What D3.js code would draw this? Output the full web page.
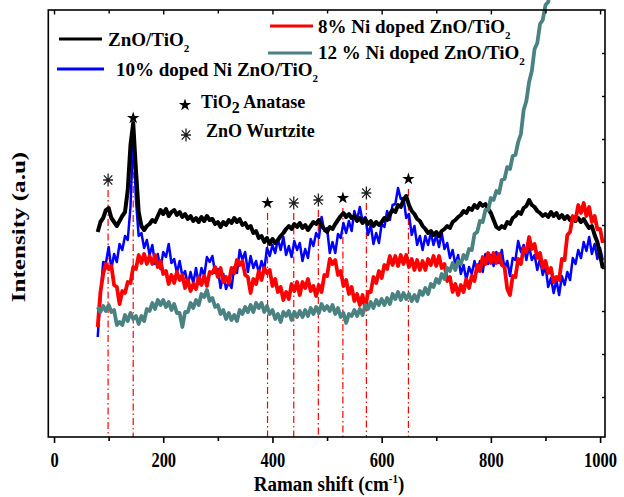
<!DOCTYPE html>
<html><head><meta charset="utf-8">
<script src="https://cdn.jsdelivr.net/npm/d3@7"></script>
<style>
body{margin:0;background:#fff}
svg{display:block;font-family:"Liberation Serif","Times New Roman",serif;font-weight:bold}
</style>
</head><body><svg id="c" width="624" height="497"></svg>
<script>
// Raman shift grid: 80, 85, 90 ... cm-1
const shiftStart = 80, shiftStep = 5;

const zno = [
205,215,219,227,229,219,215,211,216,221,
225,247,292,314,267,225,211,207,211,213,
217,215,221,227,223,228,221,225,227,222,
225,220,223,218,221,216,219,215,220,216,
221,217,218,213,215,210,215,212,217,214,
219,215,218,212,214,209,211,204,206,199,
201,195,199,193,198,194,197,201,204,208,
211,208,213,210,214,209,212,207,211,215,
213,217,211,208,205,210,208,213,217,221,
224,220,223,219,221,216,219,214,218,213,
216,211,215,212,215,219,217,223,227,225,
232,230,237,241,232,226,223,218,216,211,
208,204,206,202,205,201,206,208,211,209,
215,217,220,222,226,224,229,227,232,229,
234,231,233,228,224,217,210,208,211,209,
215,213,219,221,225,223,229,231,237,232,
230,226,224,221,223,220,225,221,224,219,
222,218,221,217,220,216,219,215,218,213,
209,211,202,195,182,169];

const ni8 = [
110,145,163,173,168,171,152,150,133,146,
144,155,154,170,168,182,174,183,173,181,
173,182,170,176,163,166,153,162,154,165,
157,162,149,157,146,153,148,160,152,161,
151,165,164,170,160,169,155,160,154,169,
164,177,172,176,162,160,144,158,153,166,
157,169,164,167,151,158,145,150,137,145,
138,153,146,155,142,155,149,158,146,151,
141,152,145,162,161,178,173,177,162,166,
151,157,143,150,136,143,132,142,128,145,
145,160,154,166,159,172,168,181,172,181,
171,182,173,182,170,178,167,177,167,176,
167,178,172,181,171,181,169,173,156,160,
145,153,142,152,145,158,149,161,156,172,
166,180,173,184,174,184,174,183,172,170,
148,142,161,160,178,173,189,185,200,188,
193,179,184,169,176,164,169,155,160,157,
178,177,202,205,221,217,232,224,234,221,
230,215,221,208,208,194];

const ni10 = [
100,141,175,174,190,168,183,175,193,187,
201,197,230,305,237,201,204,189,197,182,
192,173,183,168,185,180,193,174,178,164,
176,161,166,152,165,154,169,153,169,161,
180,175,181,164,168,149,163,148,155,149,
170,164,187,177,185,165,181,169,176,164,
176,167,189,181,192,184,198,187,200,182,
191,180,196,187,194,176,188,179,198,191,
204,199,220,206,209,184,195,184,203,199,
214,204,216,206,226,217,230,216,220,202,
212,193,204,194,213,210,226,217,232,233,
249,238,239,219,223,202,211,192,201,187,
201,192,204,192,202,190,204,188,194,179,
187,172,182,163,172,157,170,163,176,165,
176,165,183,173,182,171,185,174,187,168,
176,161,179,177,196,185,192,177,191,177,
182,167,178,162,171,150,159,144,157,142,
161,152,165,157,179,173,187,179,195,186,
200,183,193,178,189,177];

const ni12 = [
130,125,131,126,132,125,127,112,115,112,
122,116,124,118,121,113,121,116,128,126,
134,128,137,132,137,130,135,127,133,124,
124,110,125,125,134,129,137,132,143,140,
147,136,139,130,132,123,127,118,124,117,
122,116,127,123,130,125,132,125,134,129,
134,125,131,123,127,118,123,115,125,121,
126,117,125,120,126,120,127,121,129,123,
130,124,133,127,131,126,132,123,129,120,
124,114,123,121,127,121,128,122,132,128,
135,129,137,132,138,132,139,133,143,138,
145,137,144,138,143,136,142,136,146,142,
149,143,153,150,158,154,163,158,169,166,
174,167,176,173,182,178,188,187,203,205,
216,215,227,227,239,237,246,244,257,258,
270,268,281,282,295,303,327,336,355,366,
388,394,413,417,432,435,452,465];

const seriesNames = ["ZnO/TiO", "10% doped Ni ZnO/TiO", "8% Ni doped ZnO/TiO", "12 % Ni doped ZnO/TiO"];
const seriesColors = ["#000000", "#0000ff", "#ff0000", "#4a8282"];

const xTickValues = [0,100,200,300,400,500,600,700,800,900,1000];
const xTickLabels = ["0","","200","","400","","600","","800","","1000"];
const yTickValues = [40,83,126,169,212,255,298,341,384];

// peak assignments: a = TiO2 anatase (star), w = ZnO wurtzite (asterisk)
const peakShifts = [99,145,391,439,484,529,572,649];
const peakTypes  = ["w","a","a","w","w","a","w","a"];
const peakMarkY  = [257,319,234,234,237,239,244,258];

const svg = d3.select("#c");
const x = d3.scaleLinear().domain([-10.5, 1009]).range([48.3, 605]);
const y = d3.scaleLinear().domain([0, 427]).range([437, 10]);

const toPts = arr => arr.map((v,i) => [shiftStart + shiftStep*i, v]);
const line = d3.line().x(d => x(d[0])).y(d => y(d[1]));

// red dash-dot reference lines
svg.append("g").selectAll("line").data(peakShifts).join("line")
  .attr("x1", d => x(d)).attr("x2", d => x(d))
  .attr("y1", (d,i) => y(peakMarkY[i]) + 10).attr("y2", y(0))
  .attr("stroke", "#ff0000").attr("stroke-width", 1.2)
  .attr("stroke-dasharray", "7,3,1.5,3");

// spectra (draw order: blue, black, red, teal)
const order = [1,0,2,3];
const dataSets = [zno, ni10, ni8, ni12];
const widths = [4, 2.5, 3.8, 3.8];
order.forEach(k => {
  svg.append("path").datum(toPts(dataSets[k]))
    .attr("d", line).attr("fill", "none")
    .attr("stroke", seriesColors[k]).attr("stroke-width", widths[k])
    .attr("stroke-linejoin", "round");
});

// markers
const starPath = d3.symbol(d3.symbolStar, 48)();
const astPath = "M0,-6.5V6.5M-5,0H5M-4.2,-4.6L4.2,4.6M-4.2,4.6L4.2,-4.6";
function drawMarker(g, type, cx, cy) {
  const m = g.append("g").attr("transform", `translate(${cx},${cy})`);
  if (type === "a") {
    m.append("path").attr("d", starPath).attr("fill", "#000");
  } else {
    m.append("path").attr("d", astPath).attr("stroke", "#222").attr("stroke-width", 1.3).attr("fill", "none");
    m.append("circle").attr("r", 1.8).attr("fill", "#222");
  }
}
const mg = svg.append("g");
peakShifts.forEach((d,i) => drawMarker(mg, peakTypes[i], x(d), y(peakMarkY[i])));

// frame
svg.append("rect").attr("x", x.range()[0]).attr("y", y.range()[1])
  .attr("width", x.range()[1] - x.range()[0]).attr("height", y.range()[0] - y.range()[1])
  .attr("fill", "none").attr("stroke", "#000").attr("stroke-width", 1.6);

// bottom axis
const xb = svg.append("g").attr("transform", `translate(0,${y.range()[0]})`)
  .call(d3.axisBottom(x).tickValues(xTickValues).tickSize(6).tickSizeOuter(0)
    .tickFormat((d,i) => xTickLabels[i]));
xb.select(".domain").remove();
xb.selectAll(".tick line").attr("stroke-width", 1.6)
  .attr("y2", (d,i) => xTickLabels[i] ? 6 : 4);
xb.selectAll(".tick text").attr("y", 0).attr("dy", 0)
  .attr("transform", "translate(0,30) scale(1,1.25)")
  .attr("font-size", 16.5).attr("font-weight", "bold").attr("fill", "#000")
  .attr("font-family", '"Liberation Serif","Times New Roman",serif');

// top axis (inward ticks)
const xt = svg.append("g").attr("transform", `translate(0,${y.range()[1]})`)
  .call(d3.axisTop(x).tickValues(xTickValues).tickSize(-4.5).tickSizeOuter(0).tickFormat(""));
xt.select(".domain").remove();
xt.selectAll(".tick line").attr("stroke-width", 1.4)
  .attr("y2", (d,i) => xTickLabels[i] ? 4.5 : 3.5);

// right axis (inward ticks)
const yr = svg.append("g").attr("transform", `translate(${x.range()[1]},0)`)
  .call(d3.axisRight(y).tickValues(yTickValues).tickSize(-3).tickSizeOuter(0).tickFormat(""));
yr.select(".domain").remove();
yr.selectAll(".tick line").attr("stroke-width", 1.4);

// axis titles
const xl = svg.append("g").attr("transform", "translate(329,491) scale(1,1.1)")
  .append("text").attr("text-anchor", "middle").attr("font-size", 19).attr("fill", "#000");
xl.append("tspan").text("Raman shift (cm");
xl.append("tspan").attr("font-size", 11).attr("dy", -7).text("-1");
xl.append("tspan").attr("dy", 7).text(")");

svg.append("g").attr("transform", "translate(25,227) scale(1,1.32)")
  .append("text").attr("transform", "rotate(-90)").attr("text-anchor", "middle")
  .attr("font-size", 19).attr("fill", "#000").text("Intensity (a.u)");

// legend
const legendPos = [
  {lx1:59, lx2:102, ly:39, tx:108, ty:46},
  {lx1:57, lx2:104, ly:69, tx:116, ty:76},
  {lx1:270, lx2:313, ly:26, tx:318, ty:33},
  {lx1:268, lx2:312, ly:53, tx:318, ty:59}
];
const lg = svg.append("g");
seriesNames.forEach((name,k) => {
  const p = legendPos[k];
  lg.append("line").attr("x1", p.lx1).attr("x2", p.lx2).attr("y1", p.ly).attr("y2", p.ly)
    .attr("stroke", seriesColors[k]).attr("stroke-width", 3);
  const t = lg.append("text").attr("x", p.tx).attr("y", p.ty).attr("font-size", 19).attr("fill", "#000");
  t.append("tspan").text(name);
  t.append("tspan").attr("font-size", 11).attr("dy", 6).text("2");
});

// annotation legend
drawMarker(lg, "a", 185, 105);
drawMarker(lg, "w", 186, 135);
const ta = lg.append("text").attr("x", 201).attr("y", 108).attr("font-size", 18).attr("fill", "#000");
ta.append("tspan").text("TiO");
ta.append("tspan").attr("font-size", 16).attr("dy", 5).text("2");
ta.append("tspan").attr("dy", -5).text(" Anatase");
lg.append("text").attr("x", 206).attr("y", 137).attr("font-size", 18).attr("fill", "#000").text("ZnO Wurtzite");
</script>
</body></html>
